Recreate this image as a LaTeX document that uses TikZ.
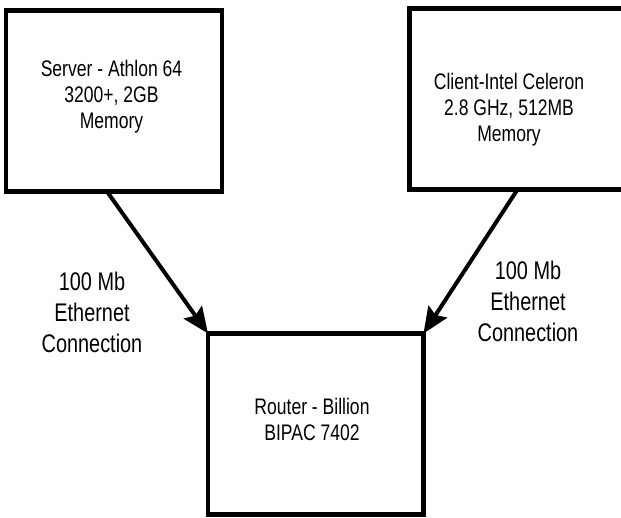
\documentclass[tikz,border=0pt]{standalone}
\usepackage{fontspec}
\setmainfont{Liberation Sans}[FakeStretch=0.78]
\usetikzlibrary{arrows.meta}

\begin{document}
\begin{tikzpicture}[x=1pt,y=1pt,yscale=-1,xscale=1,
		pcbox/.style={draw, line width=4.5pt, rectangle, inner sep=0pt, outer sep=0pt, minimum width=216pt, minimum height=181pt},
		boxtext/.style={align=center, inner sep=0.75pt, font=\fontsize{22.5}{26}\selectfont},
		linktext/.style={align=center, inner sep=0.75pt, font=\fontsize{25.5}{31}\selectfont},
		link/.style={line width=4pt, -{Stealth[length=26pt,width=22pt,inset=4pt]}}]
		\useasboundingbox (0,0) rectangle (621,518);
		
		%Shape: Rectangle [server]
		\node (srv) [pcbox] at (114,101) {};
		%Shape: Rectangle [client]
		\node (cli) [pcbox] at (517.5,99) {};
		%Shape: Rectangle [router]
		\node (rtr) [pcbox, minimum width=215.5pt] at (315.75,424) {};
		
		% Text Node
		\draw (111.5,97) node (srvtxt) [boxtext] {Server - Athlon 64\\3200+, 2GB\\Memory};
		% Text Node
		\draw (509,110) node (clitxt) [boxtext] {Client-Intel Celeron\\2.8 GHz, 512MB\\Memory};
		% Text Node
		\draw (312,419) node (rtrtxt) [boxtext] {Router - Billion\\BIPAC 7402};
		% Text Node
		\draw (92,312) node (srvlink) [linktext] {100 Mb\\Ethernet\\Connection};
		% Text Node
		\draw (528,301) node (clilink) [linktext] {100 Mb\\Ethernet\\Connection};
		
		%Straight Lines [with arrows]
		\draw [link] ([xshift=-7pt]srv.south) -- (rtr.north west);
		\draw [link] (cli.south) -- (rtr.north east);
		
\end{tikzpicture}
\end{document}
